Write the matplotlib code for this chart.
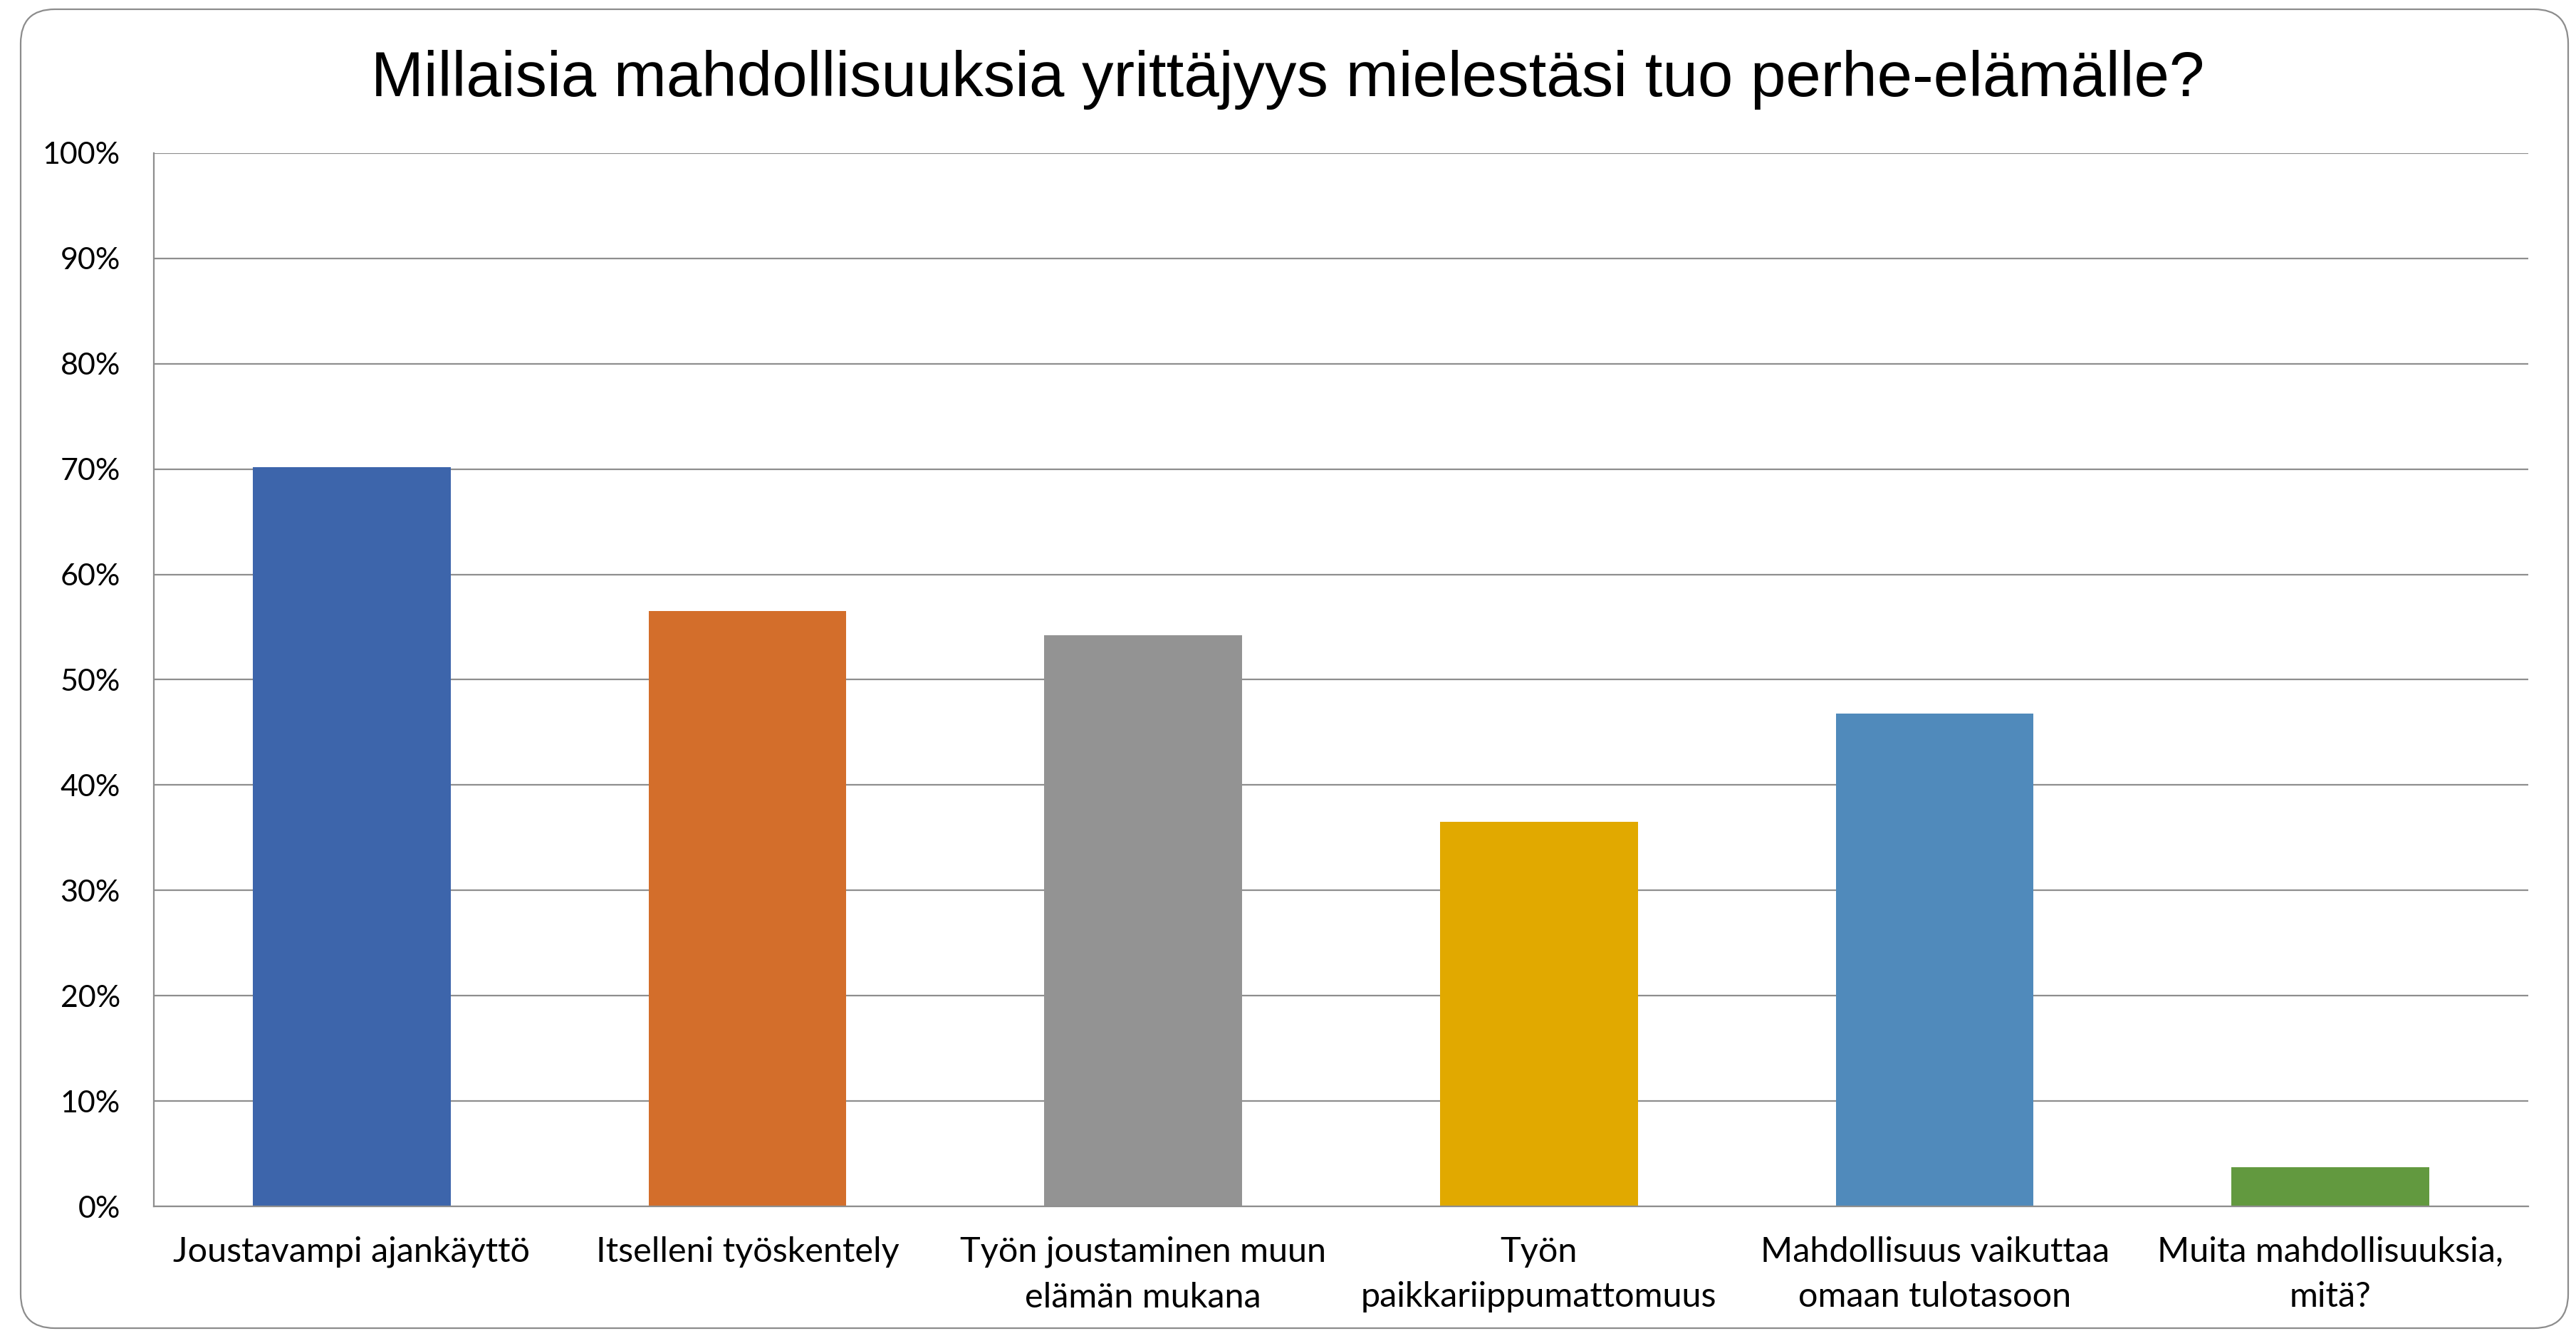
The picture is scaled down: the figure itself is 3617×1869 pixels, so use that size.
import matplotlib
matplotlib.use('Agg')
import matplotlib.pyplot as plt
from matplotlib.patches import FancyBboxPatch
from matplotlib.ticker import PercentFormatter

# === Data ===
title = 'Millaisia mahdollisuuksia yrittäjyys mielestäsi tuo perhe-elämälle?'
categories = [
    'Joustavampi ajankäyttö',
    'Itselleni työskentely',
    'Työn joustaminen muun\nelämän mukana',
    'Työn\npaikkariippumattomuus',
    'Mahdollisuus vaikuttaa\nomaan tulotasoon',
    'Muita mahdollisuuksia,\nmitä?',
]
values = [70.2, 56.5, 54.2, 36.5, 46.8, 3.7]
colors = ['#3D65AB', '#D36E2B', '#939393', '#E1A900', '#508ABB', '#62993F']

W, H = 3617, 1869
GRID = '#8e8e8e'
LABEL_FONT = ['Lato', 'DejaVu Sans']

fig = plt.figure(figsize=(W / 100, H / 100), dpi=100)

# rounded frame around the whole chart, drawn in pixel units
bg = fig.add_axes([0, 0, 1, 1])
bg.set_xlim(0, W)
bg.set_ylim(H, 0)
bg.axis('off')
frame = FancyBboxPatch((29, 13), 3606 - 29, 1865 - 13,
                       boxstyle='round,pad=0,rounding_size=48',
                       facecolor='white', edgecolor='#8c8c8c', linewidth=1.6)
bg.add_patch(frame)

# plot area
left, right, top, bottom = 216, 3550, 215, 1694
ax = fig.add_axes([left / W, 1 - bottom / H, (right - left) / W, (bottom - top) / H])
ax.set_facecolor('none')

x = range(len(categories))
ax.bar(x, values, width=0.5, color=colors, zorder=3)

ax.set_xlim(-0.5, len(categories) - 0.5)
ax.set_ylim(0, 100)
ax.set_yticks(range(0, 101, 10))
ax.yaxis.set_major_formatter(PercentFormatter(decimals=0))
ax.set_xticks(list(x))
ax.set_xticklabels(categories, linespacing=1.55)

ax.grid(axis='y', color=GRID, linewidth=1.6, zorder=0)
ax.set_axisbelow(True)
for s in ['top', 'right']:
    ax.spines[s].set_visible(False)
for s in ['left', 'bottom']:
    ax.spines[s].set_color(GRID)
    ax.spines[s].set_linewidth(1.6)
ax.spines['bottom'].set_zorder(4)

ax.tick_params(axis='y', length=0, pad=34, labelsize=31)
ax.tick_params(axis='x', length=0, pad=30, labelsize=35)
for lab in ax.get_xticklabels() + ax.get_yticklabels():
    lab.set_family(LABEL_FONT)

fig.text(0.5, 1 - 135 / H, title, ha='center', va='baseline',
         fontsize=64, family=['Liberation Sans', 'DejaVu Sans'])

fig.savefig('out.png', dpi=100)
